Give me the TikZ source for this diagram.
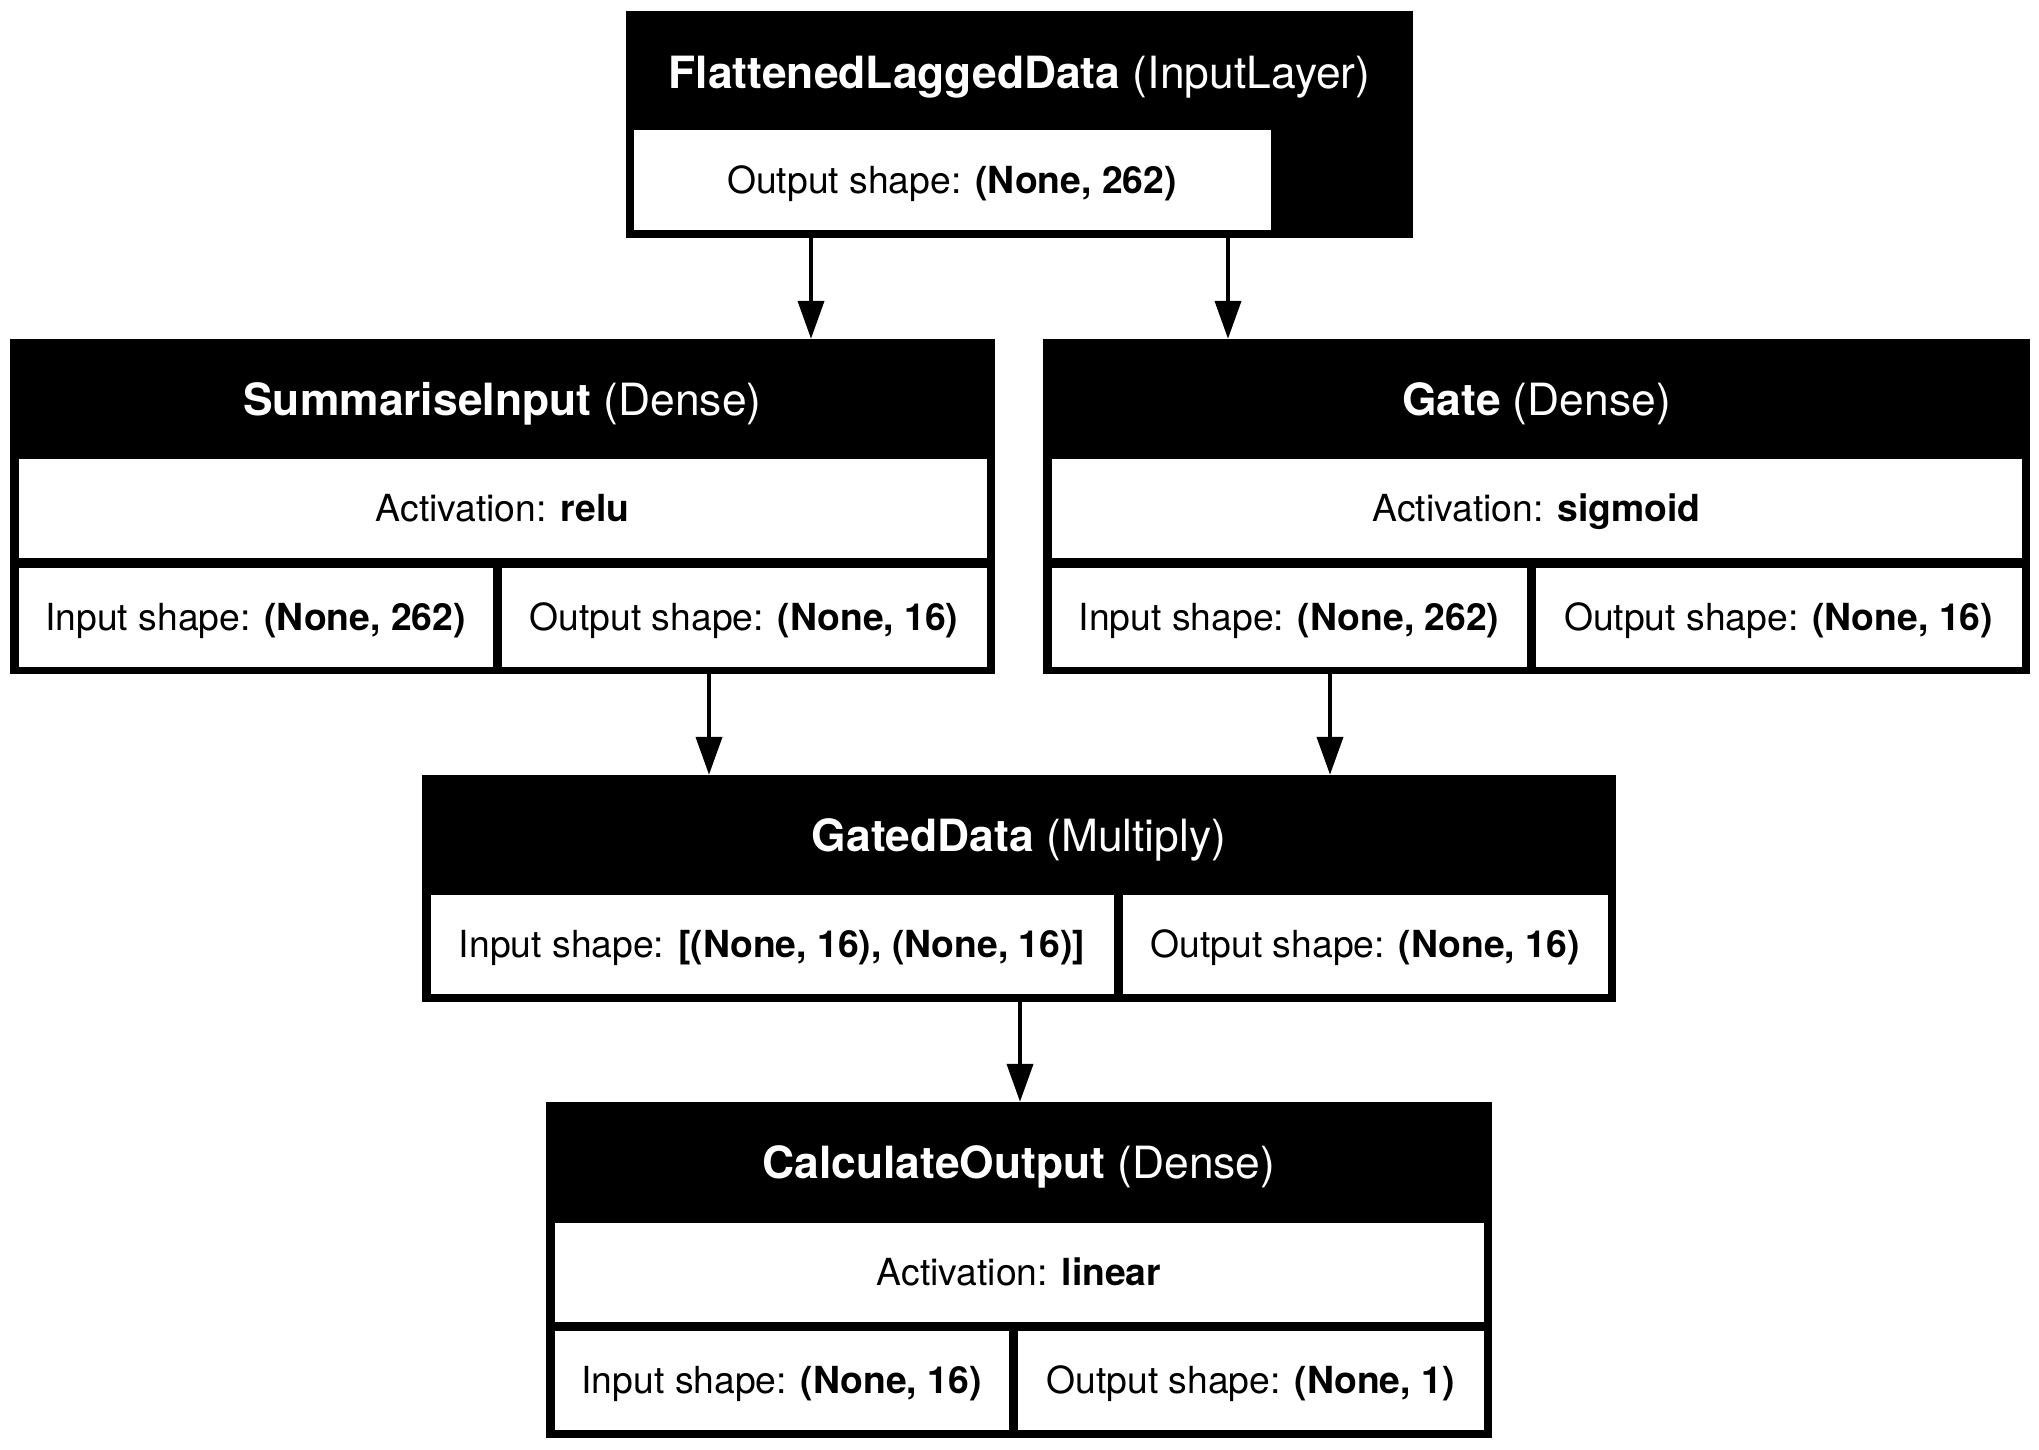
\documentclass[tikz,border=0pt]{standalone}
\usepackage{fontspec}
\setmainfont{TeX Gyre Heros}
\usetikzlibrary{arrows.meta}
\begin{document}
\begin{tikzpicture}[x=1pt,y=-1pt,
  outerbox/.style={fill=black,draw=none,inner sep=0pt},
  titletext/.style={text=white,inner sep=0pt,font=\fontsize{44.4}{50}\selectfont,text height=31.8pt,text depth=0pt},
  cell/.style={fill=white,draw=black,line width=1pt,inner sep=0pt,minimum height=100pt,
     font=\fontsize{37.3}{42}\selectfont,text height=26.7pt,text depth=0pt},
  arr/.style={line width=4pt,-{Triangle[length=38pt,width=26pt]}}]
\useasboundingbox (0,0) rectangle (2039,1450);
\fill[white] (0,0) rectangle (2039,1450);

% Input layer
\node[outerbox,minimum width=787pt,minimum height=227pt] (in) at (1019.5,124.5) {};
\node[titletext] (inT) at (1019.5,73) {\textbf{FlattenedLaggedData} (InputLayer)};
\node[cell,minimum width=638pt] (inO) at (952,180) {Output shape: \textbf{(None, 262)}};

% SummariseInput
\node[outerbox,minimum width=985pt,minimum height=335pt] (sum) at (502.5,506.5) {};
\node[titletext] (sumT) at (502.5,400) {\textbf{SummariseInput} (Dense)};
\node[cell,minimum width=969pt] (sumA) at (502.5,508) {Activation: \textbf{relu}};
\node[cell,minimum width=475pt] (sumI) at (255.5,617) {Input shape: \textbf{(None, 262)}};
\node[cell,minimum width=486pt] (sumO) at (744,617) {Output shape: \textbf{(None, 16)}};

% Gate
\node[outerbox,minimum width=987pt,minimum height=335pt] (gate) at (1536.5,506.5) {};
\node[titletext] (gateT) at (1536.5,400) {\textbf{Gate} (Dense)};
\node[cell,minimum width=971pt] (gateA) at (1536.5,508) {Activation: \textbf{sigmoid}};
\node[cell,minimum width=476pt] (gateI) at (1289,617) {Input shape: \textbf{(None, 262)}};
\node[cell,minimum width=487pt] (gateO) at (1778.5,617) {Output shape: \textbf{(None, 16)}};

% GatedData
\node[outerbox,minimum width=1194pt,minimum height=227pt] (mul) at (1019,888.5) {};
\node[titletext] (mulT) at (1019,836) {\textbf{GatedData} (Multiply)};
\node[cell,minimum width=684pt] (mulI) at (772,944) {Input shape: \textbf{[(None, 16), (None, 16)]}};
\node[cell,minimum width=486pt] (mulO) at (1365,944) {Output shape: \textbf{(None, 16)}};

% CalculateOutput
\node[outerbox,minimum width=946pt,minimum height=336pt] (calc) at (1019,1270) {};
\node[titletext] (calcT) at (1019,1163) {\textbf{CalculateOutput} (Dense)};
\node[cell,minimum width=930pt] (calcA) at (1019,1272) {Activation: \textbf{linear}};
\node[cell,minimum width=455pt] (calcI) at (781.5,1380) {Input shape: \textbf{(None, 16)}};
\node[cell,minimum width=467pt] (calcO) at (1250.5,1380) {Output shape: \textbf{(None, 1)}};

% connectors
\coordinate (x1) at (811,0);
\coordinate (x2) at (1228,0);
\coordinate (x3) at (709,0);
\coordinate (x4) at (1330,0);
\coordinate (x5) at (1020,0);
\draw[arr] (in.south -| x1) -- (sum.north -| x1);
\draw[arr] (in.south -| x2) -- (gate.north -| x2);
\draw[arr] (sum.south -| x3) -- (mul.north -| x3);
\draw[arr] (gate.south -| x4) -- (mul.north -| x4);
\draw[arr] (mul.south -| x5) -- (calc.north -| x5);
\end{tikzpicture}
\end{document}
